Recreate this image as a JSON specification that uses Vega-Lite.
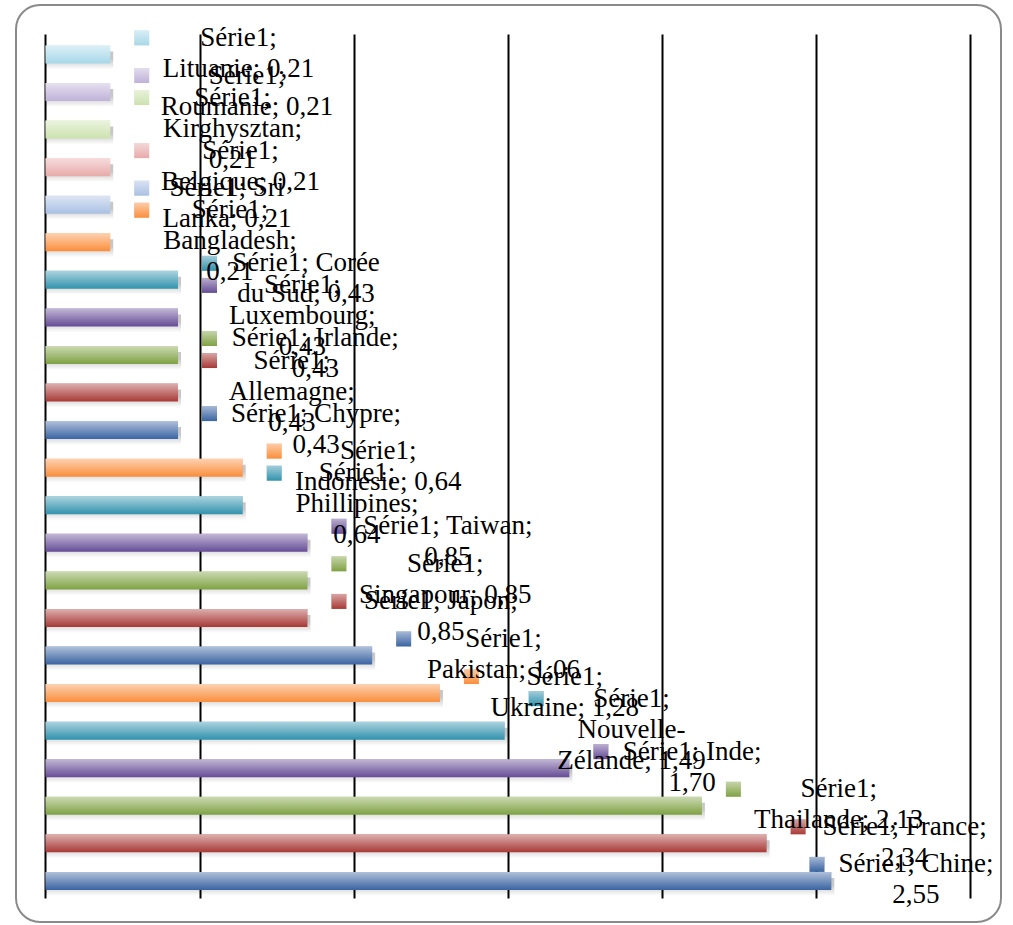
{
  "$schema": "https://vega.github.io/schema/vega-lite/v6.json",
  "width": 985,
  "height": 917,
  "autosize": {"type": "none"},
  "padding": {"left": 16, "top": 5, "right": 12, "bottom": 3},
  "background": "#ffffff",
  "config": {
    "view": {"stroke": "#8a8a8a", "strokeWidth": 2, "cornerRadius": 24},
    "font": "Liberation Serif"
  },
  "data": {
    "values": [
      {"country": "Lituanie", "value": 0.21, "label": "Série1;\nLituanie; 0,21"},
      {"country": "Roumanie", "value": 0.21, "label": "Série1;\nRoumanie; 0,21"},
      {"country": "Kirghysztan", "value": 0.21, "label": "Série1;\nKirghysztan;\n0,21"},
      {"country": "Belgique", "value": 0.21, "label": "Série1;\nBelgique; 0,21"},
      {"country": "Sri Lanka", "value": 0.21, "label": "Série1; Sri\nLanka; 0,21"},
      {"country": "Bangladesh", "value": 0.21, "label": "Série1;\nBangladesh;\n0,21"},
      {"country": "Corée du Sud", "value": 0.43, "label": "Série1; Corée\ndu Sud; 0,43"},
      {"country": "Luxembourg", "value": 0.43, "label": "Série1;\nLuxembourg;\n0,43"},
      {"country": "Irlande", "value": 0.43, "label": "Série1; Irlande;\n0,43"},
      {"country": "Allemagne", "value": 0.43, "label": "Série1;\nAllemagne;\n0,43"},
      {"country": "Chypre", "value": 0.43, "label": "Série1; Chypre;\n0,43"},
      {"country": "Indonesie", "value": 0.64, "label": "Série1;\nIndonesie; 0,64"},
      {"country": "Phillipines", "value": 0.64, "label": "Série1;\nPhillipines;\n0,64"},
      {"country": "Taiwan", "value": 0.85, "label": "Série1; Taiwan;\n0,85"},
      {"country": "Singapour", "value": 0.85, "label": "Série1;\nSingapour; 0,85"},
      {"country": "Japon", "value": 0.85, "label": "Série1; Japon;\n0,85"},
      {"country": "Pakistan", "value": 1.06, "label": "Série1;\nPakistan; 1,06"},
      {"country": "Ukraine", "value": 1.28, "label": "Série1;\nUkraine; 1,28"},
      {"country": "Nouvelle-Zélande", "value": 1.49, "label": "Série1;\nNouvelle-\nZélande; 1,49"},
      {"country": "Inde", "value": 1.70, "label": "Série1; Inde;\n1,70"},
      {"country": "Thailande", "value": 2.13, "label": "Série1;\nThailande; 2,13"},
      {"country": "France", "value": 2.34, "label": "Série1; France;\n2,34"},
      {"country": "Chine", "value": 2.55, "label": "Série1; Chine;\n2,55"}
    ]
  },
  "transform": [
    {"calculate": "split(datum.label, '\\n')", "as": "lines"},
    {"calculate": "length(datum.lines)", "as": "n"},
    {"calculate": "datum.lines[0]", "as": "l0"},
    {"calculate": "datum.n > 1 ? datum.lines[1] : ''", "as": "l1"},
    {"calculate": "datum.n > 2 ? datum.lines[2] : ''", "as": "l2"},
    {"calculate": "13*length(datum.l0) - 6*(length(datum.l0)-length(replace(datum.l0, regexp('[il;,. j]','g'), ''))) - 4*(length(datum.l0)-length(replace(datum.l0, regexp('[rtfI-]','g'), ''))) + 4.5*(length(datum.l0)-length(replace(datum.l0, regexp('[A-HJ-Z]','g'), ''))) + 7*(length(datum.l0)-length(replace(datum.l0, regexp('[mw]','g'), '')))", "as": "w0"},
    {"calculate": "13*length(datum.l1) - 6*(length(datum.l1)-length(replace(datum.l1, regexp('[il;,. j]','g'), ''))) - 4*(length(datum.l1)-length(replace(datum.l1, regexp('[rtfI-]','g'), ''))) + 4.5*(length(datum.l1)-length(replace(datum.l1, regexp('[A-HJ-Z]','g'), ''))) + 7*(length(datum.l1)-length(replace(datum.l1, regexp('[mw]','g'), '')))", "as": "w1"},
    {"calculate": "13*length(datum.l2) - 6*(length(datum.l2)-length(replace(datum.l2, regexp('[il;,. j]','g'), ''))) - 4*(length(datum.l2)-length(replace(datum.l2, regexp('[rtfI-]','g'), ''))) + 4.5*(length(datum.l2)-length(replace(datum.l2, regexp('[A-HJ-Z]','g'), ''))) + 7*(length(datum.l2)-length(replace(datum.l2, regexp('[mw]','g'), '')))", "as": "w2"},
    {"calculate": "max(datum.w0, datum.w1, datum.w2)", "as": "mw"},
    {"calculate": "min(0, 949 - (datum.value * 308.17 + 52 + datum.mw))", "as": "shift"},
    {"calculate": "datum.value + (52 + datum.mw / 2 + datum.shift) / 308.17", "as": "tpos"},
    {"calculate": "datum.value + (31.5 + datum.shift) / 308.17", "as": "spos"},
    {"calculate": "18.78 - (datum.n - 1) * 15.5", "as": "sy"}
  ],
  "encoding": {
    "y": {
      "field": "country",
      "type": "nominal",
      "sort": null,
      "axis": null,
      "scale": {"paddingInner": 0, "paddingOuter": 0.705, "align": 0.56}
    }
  },
  "layer": [
    {
      "mark": {
        "type": "bar",
        "height": {"band": 0.426},
        "yOffset": 6,
        "xOffset": 3,
        "fill": {
          "gradient": "linear", "x1": 0, "y1": 0, "x2": 0, "y2": 1,
          "stops": [
            {"offset": 0.4, "color": "rgba(0,0,0,0.22)"},
            {"offset": 1, "color": "rgba(0,0,0,0)"}
          ]
        }
      },
      "encoding": {
        "x": {
          "field": "value",
          "type": "quantitative",
          "scale": {"domain": [-0.0957, 3.1006], "nice": false, "zero": false},
          "axis": {
            "orient": "bottom",
            "offset": -24,
            "values": [0, 0.5, 1, 1.5, 2, 2.5, 3],
            "labels": false,
            "domain": false,
            "grid": false,
            "ticks": true,
            "tickSize": -864,
            "tickWidth": 2,
            "tickColor": "#000000",
            "title": null
          }
        },
        "x2": {"datum": 0}
      }
    },
    {
      "mark": {"type": "bar", "height": {"band": 0.426}},
      "encoding": {
        "x": {"field": "value", "type": "quantitative"},
        "x2": {"datum": 0},
        "color": {
          "field": "country",
          "type": "nominal",
          "legend": null,
          "scale": {
            "domain": ["Lituanie", "Roumanie", "Kirghysztan", "Belgique", "Sri Lanka", "Bangladesh", "Corée du Sud", "Luxembourg", "Irlande", "Allemagne", "Chypre", "Indonesie", "Phillipines", "Taiwan", "Singapour", "Japon", "Pakistan", "Ukraine", "Nouvelle-Zélande", "Inde", "Thailande", "France", "Chine"],
            "range": ["#A8D8E8", "#C0B2D8", "#CCE2AE", "#E8AAAA", "#AAC0E3", "#FA8E3C", "#3192AD", "#664C96", "#7FA243", "#A83936", "#3A64A2", "#FA8E3C", "#3192AD", "#664C96", "#7FA243", "#A83936", "#3A64A2", "#FA8E3C", "#3192AD", "#664C96", "#7FA243", "#A83936", "#3A64A2"]
          }
        }
      }
    },
    {
      "mark": {
        "type": "bar",
        "height": {"band": 0.426},
        "fill": {
          "gradient": "linear", "x1": 0, "y1": 0, "x2": 0, "y2": 1,
          "stops": [
            {"offset": 0, "color": "rgba(255,255,255,0.6)"},
            {"offset": 1, "color": "rgba(255,255,255,0)"}
          ]
        }
      },
      "encoding": {
        "x": {"field": "value", "type": "quantitative"},
        "x2": {"datum": 0}
      }
    },
    {
      "mark": {"type": "point", "shape": "square", "size": 225, "filled": true, "opacity": 1, "strokeWidth": 0},
      "encoding": {
        "x": {"field": "spos", "type": "quantitative"},
        "yOffset": {"field": "sy", "type": "quantitative", "scale": {"domain": [-100, 100], "range": [-100, 100]}},
        "color": {"field": "country", "type": "nominal", "legend": null}
      }
    },
    {
      "mark": {
        "type": "point", "shape": "square", "size": 225, "filled": true, "opacity": 1, "strokeWidth": 0,
        "fill": {
          "gradient": "linear", "x1": 0, "y1": 0, "x2": 0, "y2": 1,
          "stops": [
            {"offset": 0, "color": "rgba(255,255,255,0.55)"},
            {"offset": 1, "color": "rgba(255,255,255,0)"}
          ]
        }
      },
      "encoding": {
        "x": {"field": "spos", "type": "quantitative"},
        "yOffset": {"field": "sy", "type": "quantitative"}
      }
    },
    {
      "mark": {
        "type": "text",
        "align": "center",
        "baseline": "middle",
        "fontSize": 27,
        "lineHeight": 31,
        "lineBreak": "\n",
        "font": "Liberation Serif",
        "color": "#000000"
      },
      "encoding": {
        "x": {"field": "tpos", "type": "quantitative"},
        "yOffset": {"field": "sy", "type": "quantitative"},
        "text": {"field": "label", "type": "nominal"}
      }
    }
  ]
}
